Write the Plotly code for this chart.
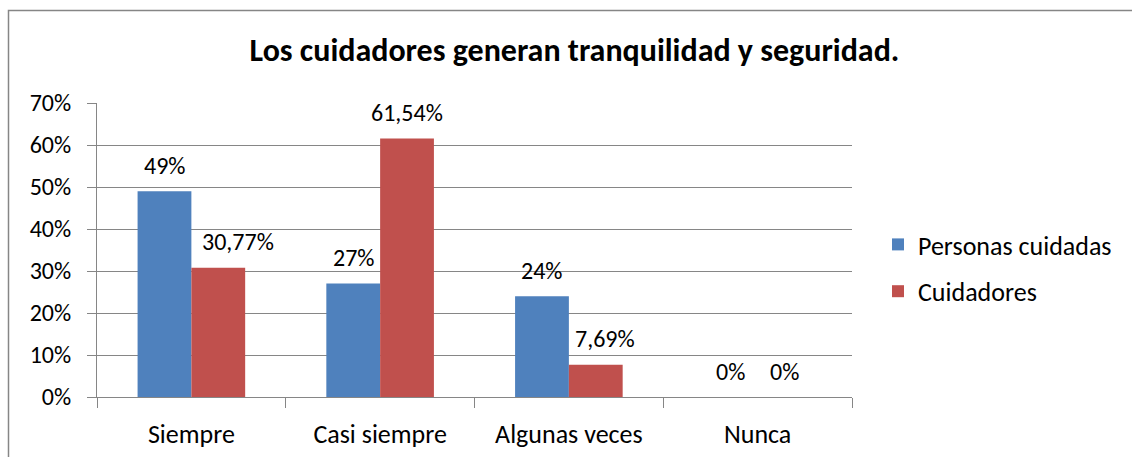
import plotly.graph_objects as go

categories = ["Siempre", "Casi siempre", "Algunas veces", "Nunca"]
personas = [0.49, 0.27, 0.24, 0.0]
cuidadores = [0.3077, 0.6154, 0.0769, 0.0]
personas_labels = ["49%", "27%", "24%", "0%"]
cuidadores_labels = ["30,77%", "61,54%", "7,69%", "0%"]
y_ticks = [0, 0.1, 0.2, 0.3, 0.4, 0.5, 0.6, 0.7]
y_tick_labels = ["0%", "10%", "20%", "30%", "40%", "50%", "60%", "70%"]

# small manual nudges of some data labels (pixels), as in the original chart
cuidadores_label_nudge = {"Siempre": 20, "Algunas veces": 9}

FONT = "Carlito, Calibri, Lato, sans-serif"
BLUE = "#4F81BD"
RED = "#C0504D"
GRID = "#868686"
NUM = 24
TXT = 26

W, H = 1132, 457
L, R, T, B = 97, 280, 103, 60
pw, ph = W - L - R, H - T - B

fig = go.Figure()
fig.add_trace(go.Bar(x=categories, y=personas, name="Personas cuidadas",
                     marker=dict(color=BLUE, line=dict(width=0)), legendgroup="a"))
fig.add_trace(go.Bar(x=categories, y=cuidadores, name="Cuidadores",
                     marker=dict(color=RED, line=dict(width=0)), legendgroup="b"))

annotations = []
for cat, v, t in zip(categories, personas, personas_labels):
    annotations.append(dict(x=cat, y=v, text=t, xref="x", yref="y", showarrow=False,
                            xshift=-27, yshift=26, font=dict(family=FONT, size=NUM, color="#000")))
for cat, v, t in zip(categories, cuidadores, cuidadores_labels):
    annotations.append(dict(x=cat, y=v, text=t, xref="x", yref="y", showarrow=False,
                            xshift=27 + cuidadores_label_nudge.get(cat, 0), yshift=26,
                            font=dict(family=FONT, size=NUM, color="#000")))

def px2x(px):
    return (px - L) / pw

def py2y(py):
    return (H - B - py) / ph

fig.update_layout(
    width=W, height=H,
    margin=dict(l=L, r=R, t=T, b=B, autoexpand=False),
    paper_bgcolor="white", plot_bgcolor="white",
    font=dict(family=FONT, size=TXT, color="#000"),
    title=dict(text="<b>Los cuidadores generan tranquilidad y seguridad.</b>",
               x=0.5075, xanchor="center", y=1 - 50 / H, yanchor="middle",
               font=dict(family=FONT, size=32, color="#000")),
    barmode="group", bargap=0.43, bargroupgap=0,
    showlegend=True,
    legend=dict(x=px2x(878), xanchor="left", y=py2y(268), yanchor="middle",
                font=dict(family=FONT, size=TXT, color="#000"),
                tracegroupgap=10, bgcolor="rgba(0,0,0,0)"),
    annotations=annotations,
    shapes=[dict(type="rect", xref="paper", yref="paper",
                 x0=px2x(8.5), x1=px2x(1145), y0=py2y(470), y1=py2y(10.5),
                 line=dict(color=GRID, width=1.5), layer="below")],
    xaxis=dict(showline=True, linecolor=GRID, linewidth=1, ticks="outside",
               tickson="boundaries", ticklen=10, tickcolor=GRID, tickwidth=1,
               showgrid=False, ticklabelstandoff=14, automargin=False,
               tickfont=dict(family=FONT, size=TXT, color="#000")),
    yaxis=dict(range=[0, 0.7], tickvals=y_ticks, ticktext=y_tick_labels,
               showline=True, linecolor=GRID, linewidth=1, ticks="outside",
               ticklen=9, tickcolor=GRID, tickwidth=1, automargin=False,
               showgrid=True, gridcolor=GRID, gridwidth=1, zeroline=False,
               ticklabelstandoff=11,
               tickfont=dict(family=FONT, size=NUM, color="#000")),
)

fig.write_html("out.html", config={"displayModeBar": False},
               post_script="document.body.style.margin='0';")
